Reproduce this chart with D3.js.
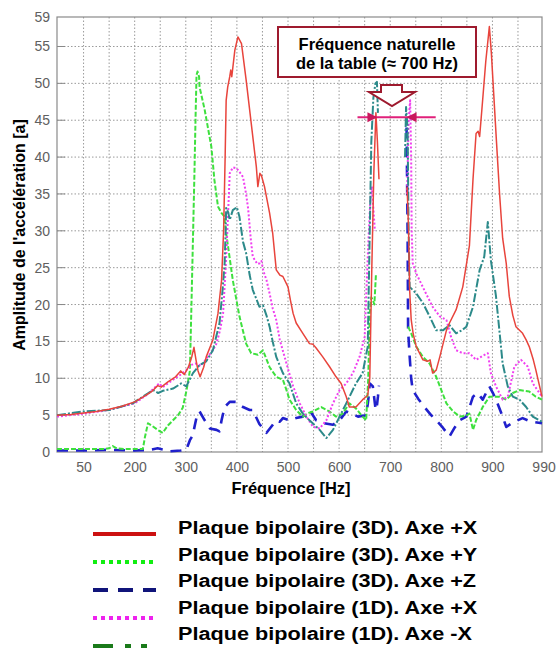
<!DOCTYPE html>
<html>
<head>
<meta charset="utf-8">
<script src="https://cdn.jsdelivr.net/npm/d3@7"></script>
<style>
  html, body { margin: 0; padding: 0; background: #fff; }
  svg { display: block; font-family: "Liberation Sans", Arial, sans-serif; }
</style>
</head>
<body>
<svg id="chart" width="558" height="649"></svg>
<script>
// ---------- DATA ----------
const xTickValues = [100, 200, 300, 400, 500, 600, 700, 800, 900, 1000];
const xTickLabels = ["50", "200", "300", "400", "500", "600", "700", "800", "900", "990"];
const xGridValues = [100,150,200,250,300,350,400,450,500,550,600,650,700,750,800,850,900,950];
const yTickValues = [0, 5, 10, 15, 20, 25, 30, 35, 40, 45, 50, 55, 59];

const seriesNames = [
  "Plaque bipolaire (3D). Axe +X",
  "Plaque bipolaire (3D). Axe +Y",
  "Plaque bipolaire (3D). Axe +Z",
  "Plaque bipolaire (1D). Axe +X",
  "Plaque bipolaire (1D). Axe -X"
];

// [frequency Hz, amplitude]; null = gap
const plate3D_X = [[48,5.0],[75,5.1],[100,5.3],[125,5.5],[150,5.8],[175,6.2],[200,6.8],[220,7.6],[235,8.3],[245,9.0],[252,8.8],[265,9.5],[280,10.2],[290,11.0],[297,10.5],[305,11.5],[312,13.0],[316,14.2],[320,12.5],[324,11.0],[328,10.2],[335,11.5],[340,12.9],[353,15.2],[363,18.8],[370,23.3],[374,30],[377,40],[379,47.7],[382,49.5],[386,50.9],[388,51.8],[390,50.9],[396,54.5],[402,56.3],[409,55.4],[418,50.5],[428,44.6],[438,38.7],[441,36],[445,37.8],[448,37.5],[454,36],[464,32.4],[470,29.7],[477,24.7],[484,24],[490,23.8],[500,22.4],[505,20.5],[510,18.8],[516,17.5],[529,16.1],[542,14.7],[549,14.6],[555,14.1],[568,12.9],[581,11.6],[594,10.2],[604,9.3],[614,7.5],[620,6.1],[633,6.1],[646,7.1],[656,7.7],[660,10],[664,25],[668,38],[672,46],[675,42],[678,37],null,[733,36],[736,30],[738,22],[741,18],[745,16],[751,14.3],[764,12.5],[773,12.3],[778,12.5],[783,10.7],[790,11.1],[797,12.9],[810,16.5],[816,17.5],[829,19.3],[842,22.4],[855,28],[862,37],[868,43.2],[872,43.5],[875,42.8],[880,47],[887,53],[894,57.7],[898,54],[903,48],[908,42],[914,35],[920,29],[927,25.6],[933,21.1],[940,18.5],[946,17.0],[959,16.1],[966,15.2],[972,14.3],[980,12.5],[985,11.1],[992,9],[997,7.5]];

const plate3D_Y = [[48,0.4],[100,0.4],[140,0.4],[150,0.5],[157,0.8],[165,0.5],[180,0.4],[200,0.4],[216,0.4],[220,2],[226,3.9],[235,3.5],[245,3],[255,2.6],[265,3.6],[275,4.3],[285,5.0],[294,6.0],[301,8.2],[308,11],[311,19.7],[314,28.8],[317,38],[319,45],[321,51.1],[323,51.6],[326,50.9],[327,49.5],[337,46.4],[343,44.1],[350,41.4],[356,36.9],[363,33.3],[370,32.4],[375,32],[379,29.7],[392,23.3],[405,18.4],[418,14.7],[428,13.4],[441,13.2],[451,13.8],[464,11.5],[477,10.2],[490,9.8],[497,8.4],[503,7.1],[516,5.7],[529,4.8],[540,5.3],[549,5.5],[565,6.1],[581,5.5],[594,4.8],[607,5.2],[620,6.6],[633,5.9],[646,4.8],[653,4.3],[657,10],[660,18.8],[663,21],[666,20.6],[669,20],[672,24],null,[735,17.0],[741,16.1],[751,14.3],[764,12.9],[777,12.0],[790,10.2],[800,8.4],[810,6.6],[823,5.5],[836,4.8],[848,4.9],[855,5.2],[862,3.0],[868,4.3],[881,6.1],[894,7.5],[913,7.5],[927,7.1],[940,8.0],[953,8.4],[972,8.2],[985,7.5],[997,7.1]];

const plate3D_Z = [[48,0.2],[100,0.2],[150,0.3],[200,0.2],[230,0.3],[245,0.5],[258,0.3],[268,0.1],[290,0.2],[301,0.3],[308,1.6],[314,2.3],[317,3.4],[322,5],[327,5.5],[337,4.3],[347,3.2],[360,3.0],[366,2.8],[370,4.3],[376,6.1],[386,6.8],[399,6.8],[405,6.4],[412,6.1],[425,5.7],[431,5.7],[444,3.8],[458,2.6],[468,3.5],[477,4.3],[484,4.1],[490,4.6],[503,4.3],[516,4.6],[529,4.8],[542,5.7],[555,4.3],[570,3.9],[588,3.7],[601,4.3],[614,5.5],[625,5.2],[637,4.8],[653,5.0],[657,7],[660,9.3],[666,8.9],[671,6],[673,5.7],[676,7.5],[678,9],null,[732,44],[734,30],[735,16.5],[738,13],[741,10],[744,8.4],[755,7.2],[767,6.1],[780,5],[790,4.3],[803,3.3],[816,2.1],[826,3.3],[836,4.3],[849,4.8],[862,7.5],[871,8.0],[881,7.1],[894,8.9],[901,8],[907,7.1],[920,4.8],[927,3.4],[940,4.0],[959,4.6],[969,4.3],[979,4.1],[997,3.9]];

const plate1D_X = [[48,4.8],[100,5.2],[150,5.7],[200,6.6],[225,7.8],[240,8.8],[248,9.3],[255,8.8],[275,9.8],[290,10.5],[301,11.1],[310,11.8],[320,12.0],[330,11.7],[343,12.9],[353,13.8],[360,14.7],[367,16.5],[373,18.8],[378,25],[382,31],[386,37.8],[392,38.6],[399,38.5],[405,38.0],[412,37.3],[418,35],[422,33],[427,29],[431,26.5],[440,25.5],[445,25.6],[448,25.9],[452,24.5],[458,23.3],[464,21.5],[470,19.5],[477,17.9],[484,15.2],[497,12.0],[510,8.9],[523,6.6],[536,4.8],[549,3.4],[562,3.2],[575,4.3],[588,6.6],[601,8.4],[614,9.3],[627,10.7],[640,12.9],[650,15.6],[653,21.1],[657,28],[661,34],[664,36],[667,33],[670,30],null,[733,35],[736,45],[739,47.7],[741,40],[742,30],[744,25.6],[751,24.2],[770,21.5],[783,19.7],[797,18.4],[810,17.9],[819,15.6],[829,13.8],[842,13.4],[855,13.4],[868,12.5],[880,13],[891,13.4],[897,10.7],[907,8.9],[920,7.1],[930,7.5],[943,11.6],[956,12.5],[969,11.6],[979,9.3],[997,7.5]];

const plate1D_mX = [[48,5.0],[100,5.5],[151,5.7],[196,6.6],[216,7.5],[236,8.4],[246,8.0],[255,8.3],[275,8.6],[291,9.3],[301,8.9],[314,10.7],[327,11.8],[340,12.3],[353,13.8],[366,17.5],[372,22],[376,25.6],[378,30],[379,33.1],[383,32.5],[386,31.5],[392,32.8],[400,33.2],[405,31.9],[412,28.5],[418,27],[425,24],[431,22.0],[444,19.7],[451,19.9],[458,18.5],[464,17.0],[470,15],[477,12.9],[490,10.7],[503,9.3],[516,6.6],[529,5.2],[542,4.3],[562,3.0],[575,1.9],[588,3.0],[601,4.8],[614,6.6],[633,9.3],[646,10.7],[656,14.3],[660,30],[663,42],[667,48],[671,50],[674,50.2],[676,46],null,[729,40],[731,46.8],[734,44],[736,30],[738,22.4],[751,21.5],[764,20.2],[777,18.4],[790,16.5],[803,16.5],[816,17.2],[829,16.1],[840,16.5],[849,17.0],[862,19.7],[875,24.7],[884,26.5],[891,31.2],[897,26.0],[907,21.1],[920,12.0],[930,8.9],[940,7.5],[953,7.1],[966,6.1],[979,4.8],[997,4.1]];

const seriesData = [plate3D_X, plate3D_Y, plate3D_Z, plate1D_X, plate1D_mX];

// styles
const plotColors   = ["#e8443c", "#3ee03e", "#2020cc", "#f040f0", "#2c8a8a"];
const legendColors = ["#cc1111", "#11ee11", "#10147a", "#ee22ee", "#1a7a1a"];
const plotWidths   = [1.5, 2, 2.6, 2, 2];
const plotDash     = [null, "5,2", "11,8", "2,2", "9,2,2,2"];
const legendDash   = [null, "4,4", "15,10", "4,4", "20,12,6,10,6,10"];

// annotation frequencies
const bandLeft = 675, bandRight = 732, bandLevel = 45.4, bandLineFrom = 636, bandLineTo = 789;

// ---------- CHART ----------
const svg = d3.select("#chart");
const font = '"Liberation Sans", Arial, sans-serif';
const x = d3.scaleLinear().domain([48, 997]).range([57, 542]);
const y = d3.scaleLinear().domain([0, 59]).range([452, 17]);

// gridlines
const grid = svg.append("g");
grid.selectAll("line.vx").data(xGridValues).join("line")
  .attr("x1", d => x(d)).attr("x2", d => x(d))
  .attr("y1", y(59)).attr("y2", y(0))
  .attr("stroke", "#9a9a9a").attr("stroke-width", 1).attr("stroke-dasharray", "1.5,2");
grid.selectAll("line.hy").data(yTickValues.filter(v => v > 0 && v < 59)).join("line")
  .attr("x1", x(48)).attr("x2", x(997))
  .attr("y1", d => y(d)).attr("y2", d => y(d))
  .attr("stroke", "#9a9a9a").attr("stroke-width", 1).attr("stroke-dasharray", "1.5,2");

// inner ticks
svg.append("g").selectAll("line").data(yTickValues.filter(v => v > 0 && v < 59)).join("line")
  .attr("x1", x(48)).attr("x2", x(48) + 8).attr("y1", d => y(d)).attr("y2", d => y(d))
  .attr("stroke", "#888").attr("stroke-width", 1);

// axes labels via d3 axes
const xAxis = d3.axisBottom(x).tickValues(xTickValues).tickSize(0).tickPadding(10)
  .tickFormat((d, i) => xTickLabels[i]);
const gx = svg.append("g").attr("transform", `translate(0,${y(0)})`).call(xAxis);
gx.select(".domain").remove();
gx.selectAll("text").attr("font-family", font).attr("font-size", 14).attr("fill", "#606060");

const yAxis = d3.axisLeft(y).tickValues(yTickValues).tickSize(0).tickPadding(7);
const gy = svg.append("g").attr("transform", `translate(${x(48)},0)`).call(yAxis);
gy.select(".domain").remove();
gy.selectAll("text").attr("font-family", font).attr("font-size", 14).attr("fill", "#606060");

// frame
svg.append("rect").attr("x", x(48)).attr("y", y(59))
  .attr("width", x(997) - x(48)).attr("height", y(0) - y(59))
  .attr("fill", "none").attr("stroke", "#8a8a8a").attr("stroke-width", 1.2);

// series
const line = d3.line().defined(d => d !== null).x(d => x(d[0])).y(d => y(d[1]));
const drawOrder = [2, 1, 3, 4, 0];
const lines = svg.append("g");
drawOrder.forEach(i => {
  lines.append("path").datum(seriesData[i])
    .attr("d", line)
    .attr("fill", "none")
    .attr("stroke", plotColors[i])
    .attr("stroke-width", plotWidths[i])
    .attr("stroke-linejoin", "round")
    .attr("stroke-dasharray", plotDash[i]);
});

// axis titles
svg.append("text").attr("x", 291).attr("y", 494).attr("text-anchor", "middle")
  .attr("font-family", font).attr("font-weight", "bold").attr("font-size", 16.5)
  .text("Fréquence [Hz]");
svg.append("text").attr("transform", "translate(25,235) rotate(-90)").attr("text-anchor", "middle")
  .attr("font-family", font).attr("font-weight", "bold").attr("font-size", 16)
  .text("Amplitude de l'accélération [a]");

// annotation: band markers
const bandColor = "#e0207a";
svg.append("line").attr("x1", x(bandLineFrom)).attr("x2", x(bandLineTo))
  .attr("y1", y(bandLevel)).attr("y2", y(bandLevel))
  .attr("stroke", bandColor).attr("stroke-width", 2);
const by = y(bandLevel);
svg.append("path")
  .attr("d", `M${x(bandLeft)},${by} L${x(bandLeft) - 10},${by - 5} L${x(bandLeft) - 10},${by + 5} Z`)
  .attr("fill", "#c8185c");
svg.append("path")
  .attr("d", `M${x(bandRight)},${by} L${x(bandRight) + 10},${by - 5} L${x(bandRight) + 10},${by + 5} Z`)
  .attr("fill", "#c8185c");

// hollow down arrow
const ax = x((bandLeft + bandRight) / 2);
svg.append("path")
  .attr("d", `M${ax - 11},85 L${ax + 10},85 L${ax + 10},92 L${ax + 23},92 L${ax},106 L${ax - 23},92 L${ax - 11},92 Z`)
  .attr("fill", "#fff").attr("stroke", "#9e1a2e").attr("stroke-width", 2).attr("stroke-linejoin", "miter");

// annotation box
svg.append("rect").attr("x", 278).attr("y", 27).attr("width", 198).attr("height", 50)
  .attr("fill", "#fff").attr("stroke", "#9e1a2e").attr("stroke-width", 2);
svg.append("text").attr("x", 377).attr("y", 50).attr("text-anchor", "middle")
  .attr("font-family", font).attr("font-weight", "bold").attr("font-size", 16.5)
  .text("Fréquence naturelle");
svg.append("text").attr("x", 377).attr("y", 69).attr("text-anchor", "middle")
  .attr("font-family", font).attr("font-weight", "bold").attr("font-size", 16.5)
  .text("de la table (≈ 700 Hz)");

// legend
const legend = svg.append("g");
seriesNames.forEach((name, i) => {
  const ly = 534 + 28 * i;
  legend.append("line").attr("x1", 93).attr("x2", 156).attr("y1", ly).attr("y2", ly)
    .attr("stroke", legendColors[i]).attr("stroke-width", 4)
    .attr("stroke-dasharray", legendDash[i]);
  legend.append("text")
    .attr("transform", `translate(178,${534 + 26.5 * i}) scale(1.14,1)`)
    .attr("font-family", font).attr("font-weight", "bold").attr("font-size", 19)
    .attr("fill", "#000").text(name);
});
</script>
</body>
</html>
